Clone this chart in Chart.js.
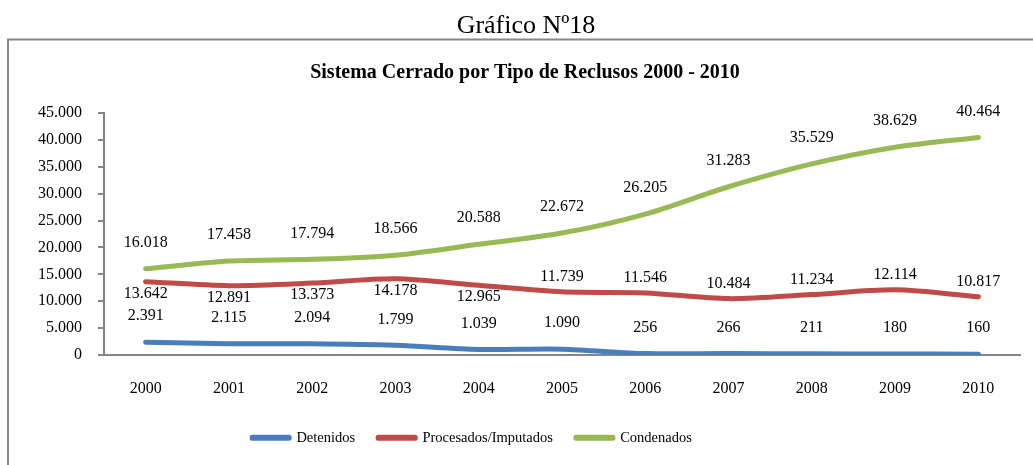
<!DOCTYPE html>
<html>
<head>
<meta charset="utf-8">
<script src="https://cdn.jsdelivr.net/npm/chart.js@4/dist/chart.umd.min.js"></script>
<style>
  html, body { margin: 0; padding: 0; overflow: hidden; background: #fff; }
  #c { position: absolute; left: 0; top: 0; }
</style>
</head>
<body>
<canvas id="c" width="1033" height="490" style="width:1033px;height:490px"></canvas>
<script>
const outerTitle = 'Gráfico Nº18';
const chartTitle = 'Sistema Cerrado por Tipo de Reclusos 2000 - 2010';
const years = ['2000','2001','2002','2003','2004','2005','2006','2007','2008','2009','2010'];
const seriesNames = ['Detenidos', 'Procesados/Imputados', 'Condenados'];
const detenidos  = [2391, 2115, 2094, 1799, 1039, 1090, 256, 266, 211, 180, 160];
const procesados = [13642, 12891, 13373, 14178, 12965, 11739, 11546, 10484, 11234, 12114, 10817];
const condenados = [16018, 17458, 17794, 18566, 20588, 22672, 26205, 31283, 35529, 38629, 40464];
const yMin = 0, yMax = 45000, yStep = 5000;

const FONT = "'Liberation Serif', 'Times New Roman', serif";
function fmt(v) { return String(v).replace(/\B(?=(\d{3})+(?!\d))/g, '.'); }

const framePlugin = {
  id: 'frame',
  afterLayout(chart) {
    // shift the legend row left and the title right, as in the reference
    const lg = chart.legend;
    if (lg) { lg.left -= 43; lg.right -= 43; }
    const tb = chart.titleBlock;
    if (tb) { tb.left += 10; tb.right += 10; }
  },
  beforeDraw(chart) {
    const ctx = chart.ctx;
    ctx.save();
    ctx.fillStyle = '#000';
    ctx.font = '26px ' + FONT;
    ctx.textAlign = 'center';
    ctx.textBaseline = 'alphabetic';
    ctx.fillText(outerTitle, 526, 33);
    ctx.strokeStyle = '#888888';
    ctx.lineWidth = 2;
    ctx.beginPath();
    ctx.moveTo(8, 600);
    ctx.lineTo(8, 39.5);
    ctx.lineTo(1100, 39.5);
    ctx.stroke();
    ctx.restore();
  }
};

const labelPlugin = {
  id: 'dataLabels',
  afterDatasetsDraw(chart) {
    const ctx = chart.ctx;
    ctx.save();
    ctx.font = '16px ' + FONT;
    ctx.fillStyle = '#000';
    ctx.textAlign = 'center';
    ctx.textBaseline = 'middle';
    chart.data.datasets.forEach((ds, i) => {
      const meta = chart.getDatasetMeta(i);
      meta.data.forEach((pt, j) => {
        let dy;
        if (i === 1) dy = j < 5 ? 12 : -15;
        else dy = -26;
        ctx.fillText(fmt(ds.data[j]), pt.x, pt.y + dy);
      });
    });
    ctx.restore();
  }
};

function lineDs(label, data, color) {
  return {
    label, data,
    borderColor: color, backgroundColor: color,
    borderWidth: 5, pointRadius: 0, pointHoverRadius: 0,
    tension: 0.3, borderCapStyle: 'round', borderJoinStyle: 'round',
    fill: false
  };
}

new Chart(document.getElementById('c'), {
  type: 'line',
  data: {
    labels: years,
    datasets: [
      lineDs(seriesNames[0], detenidos, '#4A7EBB'),
      lineDs(seriesNames[1], procesados, '#BE4B48'),
      lineDs(seriesNames[2], condenados, '#98B954')
    ]
  },
  options: {
    responsive: false,
    animation: false,
    devicePixelRatio: 1,
    layout: { padding: { top: 41, left: 10, right: 13, bottom: 35 } },
    plugins: {
      tooltip: { enabled: false },
      title: {
        display: true, text: chartTitle, color: '#000',
        font: { family: FONT, size: 20, weight: 'bold' },
        padding: { top: 20, bottom: 28 }
      },
      legend: {
        position: 'bottom',
        labels: {
          color: '#000',
          font: { family: FONT, size: 14.5 },
          boxWidth: 37, boxHeight: 1, padding: 23
        }
      }
    },
    scales: {
      x: {
        offset: true,
        grid: { display: false, drawTicks: false },
        border: { display: true, color: '#868686', width: 2 },
        ticks: { color: '#000', font: { family: FONT, size: 16 }, padding: 24, maxRotation: 0 },
        afterFit(s) { s.height = 52.5; }
      },
      y: {
        min: yMin, max: yMax,
        grid: { drawOnChartArea: false, drawTicks: true, tickLength: 6, color: '#868686', lineWidth: 2 },
        border: { display: true, color: '#868686', width: 2 },
        ticks: { stepSize: yStep, color: '#000', font: { family: FONT, size: 16 }, padding: 16, callback: v => fmt(v) },
        afterFit(s) { s.width = 94; }
      }
    }
  },
  plugins: [framePlugin, labelPlugin]
});
</script>
</body>
</html>
